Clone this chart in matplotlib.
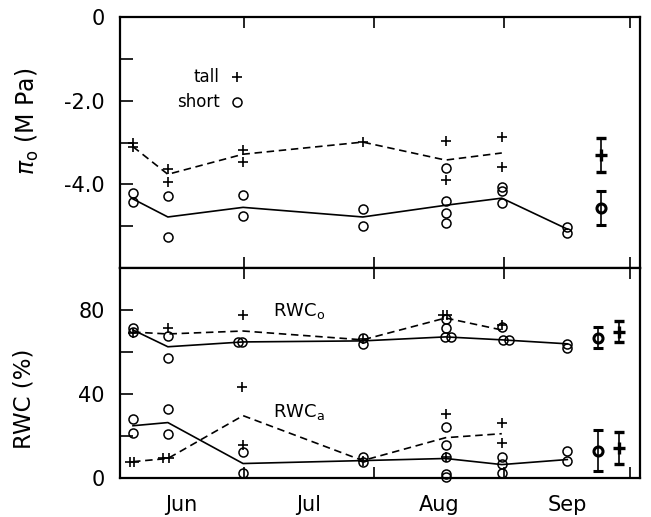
import matplotlib
matplotlib.use("Agg")
import matplotlib.pyplot as plt
from matplotlib.ticker import FixedLocator, NullFormatter

plt.rcParams['font.family'] = ['DejaVu Sans']

# ---- data (x = days after 1 June) ----
sample_day = [3.6, 11.9, 29.8, 58.3, 78.0, 91.4, 107.0]

# osmotic potential at full turgor (MPa)
pi_tall_x = [3.6, 3.6, 11.9, 11.9, 29.8, 29.8, 58.3, 78.0, 78.0, 91.4, 91.4]
pi_tall_y = [-3.01, -3.11, -3.64, -3.95, -3.18, -3.47, -2.99, -2.97, -3.90, -2.87, -3.59]
pi_tall_mean = [-3.10, -3.76, -3.28, -2.99, -3.42, -3.25]

pi_short_x = [3.6, 3.6, 11.9, 11.9, 29.8, 29.8, 58.3, 58.3, 78.0, 78.0, 78.0, 78.0,
              91.4, 91.4, 91.4, 107.0, 107.0]
pi_short_y = [-4.21, -4.43, -4.28, -5.26, -4.26, -4.76, -4.59, -5.00, -3.61, -4.40, -4.69, -4.93,
              -4.07, -4.16, -4.45, -5.02, -5.17]
pi_short_mean = [-4.35, -4.78, -4.55, -4.78, -4.50, -4.33, -5.07]

pi_summary_x = 115.0
pi_summary_tall = (-3.30, 0.40)
pi_summary_short = (-4.56, 0.40)

# RWC_o (%)
rwco_tall_x = [3.6, 11.9, 29.8, 58.3, 77.3, 78.3, 91.4]
rwco_tall_y = [69.1, 71.5, 77.7, 66.0, 77.7, 77.7, 72.9]
rwco_tall_mean = [69.5, 68.6, 70.0, 65.8, 76.2, 70.5]
rwco_short_x = [3.6, 3.6, 11.9, 11.9, 28.5, 29.5, 58.3, 58.3, 78.0, 78.0, 77.9, 79.3,
                91.4, 91.7, 93.1, 107.0, 107.0]
rwco_short_y = [71.5, 69.6, 67.7, 57.2, 64.8, 64.8, 66.7, 63.9, 75.8, 71.5, 67.2, 67.2,
                72.0, 65.8, 65.8, 63.9, 62.0]
rwco_short_mean = [70.5, 62.5, 64.8, 65.3, 67.2, 65.8, 63.9]

# RWC_a (%)
rwca_tall_x = [2.9, 3.8, 10.7, 12.1, 29.6, 29.8, 58.3, 78.0, 78.0, 91.4, 91.4]
rwca_tall_y = [7.8, 7.8, 9.3, 9.3, 43.5, 15.9, 8.3, 30.6, 10.2, 26.4, 16.9]
rwca_tall_mean = [7.8, 9.3, 29.7, 8.3, 19.2, 21.1]
rwca_short_x = [3.6, 3.6, 11.9, 11.9, 29.8, 29.8, 58.3, 58.3, 78.0, 78.0, 78.0, 78.0, 78.0,
                91.4, 91.4, 91.4, 107.0, 107.0]
rwca_short_y = [28.3, 21.6, 33.0, 21.1, 12.6, 2.6, 10.2, 7.4, 24.5, 15.9, 10.2, 1.7, 0.7,
                10.2, 6.9, 2.6, 13.1, 8.3]
rwca_short_mean = [24.9, 26.4, 6.9, 8.3, 9.3, 6.4, 8.8]

rwc_summary_short_x = 114.3
rwc_summary_tall_x = 119.3
rwco_summary_short = (66.7, 5.0)
rwco_summary_tall = (69.6, 5.0)
rwca_summary_short = (13.1, 9.6)
rwca_summary_tall = (14.5, 7.6)

month_bounds = [30, 61, 92, 122]
month_mid = [15, 45.5, 76.5, 107]
month_names = ['Jun', 'Jul', 'Aug', 'Sep']

pi_ticks = [0, -1, -2, -3, -4, -5, -6]
pi_labels = ['0', '', '-2.0', '', '-4.0', '', '']
rwc_ticks = [0, 20, 40, 60, 80, 100]
rwc_labels = ['0', '', '40', '', '80', '']

# ---- figure ----
fig = plt.figure(figsize=(6.51, 5.17), dpi=100)
ax1 = fig.add_axes([0.1843, 0.4816, 0.7988, 0.4855])
ax2 = fig.add_axes([0.1843, 0.0754, 0.7988, 0.4062], sharex=ax1)

open_o = dict(marker='o', markersize=6.5, markerfacecolor='none', markeredgecolor='black',
              markeredgewidth=1.1, linestyle='none', clip_on=False)
plus = dict(marker='+', markersize=6.5, color='black', markeredgewidth=1.2,
            linestyle='none', clip_on=False)
dash_kw = dict(color='black', lw=1.2, dashes=[4.5, 2.8])
solid_kw = dict(color='black', lw=1.2)

ntall = len(pi_tall_mean)

# top panel
ax1.plot(sample_day[:ntall], pi_tall_mean, **dash_kw)
ax1.plot(sample_day, pi_short_mean, **solid_kw)
ax1.plot(pi_tall_x, pi_tall_y, **plus)
ax1.plot(pi_short_x, pi_short_y, **open_o)
ax1.errorbar([pi_summary_x], [pi_summary_tall[0]], yerr=[pi_summary_tall[1]], fmt='+',
             color='black', ms=8, mew=2.4, elinewidth=1.2, capsize=3.5, capthick=1.2)
ax1.errorbar([pi_summary_x], [pi_summary_short[0]], yerr=[pi_summary_short[1]], fmt='o',
             color='black', mfc='none', ms=6.5, mew=2.2, elinewidth=1.2, capsize=3.5, capthick=1.2)

# legend
ax1.text(0.192, 0.761, 'tall', transform=ax1.transAxes, ha='right', va='center', fontsize=12)
ax1.text(0.192, 0.661, 'short', transform=ax1.transAxes, ha='right', va='center', fontsize=12)
ax1.plot([0.225], [0.761], transform=ax1.transAxes, **plus)
ax1.plot([0.225], [0.661], transform=ax1.transAxes, **open_o)

# bottom panel
ax2.plot(sample_day[:ntall], rwco_tall_mean, **dash_kw)
ax2.plot(sample_day, rwco_short_mean, **solid_kw)
ax2.plot(sample_day[:ntall], rwca_tall_mean, **dash_kw)
ax2.plot(sample_day, rwca_short_mean, **solid_kw)
ax2.plot(rwco_tall_x, rwco_tall_y, **plus)
ax2.plot(rwco_short_x, rwco_short_y, **open_o)
ax2.plot(rwca_tall_x, rwca_tall_y, **plus)
ax2.plot(rwca_short_x, rwca_short_y, **open_o)
for (m, e), x in [(rwco_summary_tall, rwc_summary_tall_x), (rwca_summary_tall, rwc_summary_tall_x)]:
    ax2.errorbar([x], [m], yerr=[e], fmt='+', color='black', ms=8, mew=2.4,
                 elinewidth=1.2, capsize=3.5, capthick=1.2)
for (m, e), x in [(rwco_summary_short, rwc_summary_short_x), (rwca_summary_short, rwc_summary_short_x)]:
    ax2.errorbar([x], [m], yerr=[e], fmt='o', color='black', mfc='none', ms=6.5, mew=2.2,
                 elinewidth=1.2, capsize=3.5, capthick=1.2)

ax2.text(0.294, 0.795, r'RWC$_{\mathrm{o}}$', transform=ax2.transAxes, ha='left', va='center', fontsize=13)
ax2.text(0.294, 0.314, r'RWC$_{\mathrm{a}}$', transform=ax2.transAxes, ha='left', va='center', fontsize=13)

# axes formatting
ax1.set_xlim(0.5, 124.3)
ax1.set_ylim(-6, 0)
ax2.set_ylim(0, 100)

for ax in (ax1, ax2):
    for s in ax.spines.values():
        s.set_linewidth(1.6)
    ax.xaxis.set_major_locator(FixedLocator(month_bounds))
    ax.tick_params(axis='both', which='major', direction='in', width=1.2, length=9,
                   labelsize=15, pad=11)

ax1.set_yticks(pi_ticks)
ax1.set_yticklabels(pi_labels)
ax2.set_yticks(rwc_ticks)
ax2.set_yticklabels(rwc_labels)

ax1.tick_params(axis='x', which='major', top=True, bottom=True, direction='in',
                length=8, labelbottom=False)
ax2.tick_params(axis='x', which='major', top=True, bottom=True, direction='in', length=8)
ax2.set_xticks(month_mid, minor=True)
ax2.set_xticklabels(month_names, minor=True)
ax2.xaxis.set_major_formatter(NullFormatter())
ax2.tick_params(axis='x', which='minor', length=0, labelsize=15, pad=12)

ax1.set_ylabel(r'$\pi_{\mathrm{o}}$ (M Pa)', fontsize=17)
ax1.yaxis.set_label_coords(-0.152, 0.586)
ax2.set_ylabel('RWC (%)', fontsize=16.5)
ax2.yaxis.set_label_coords(-0.163, 0.376)

fig.savefig('out.png', dpi=100)
